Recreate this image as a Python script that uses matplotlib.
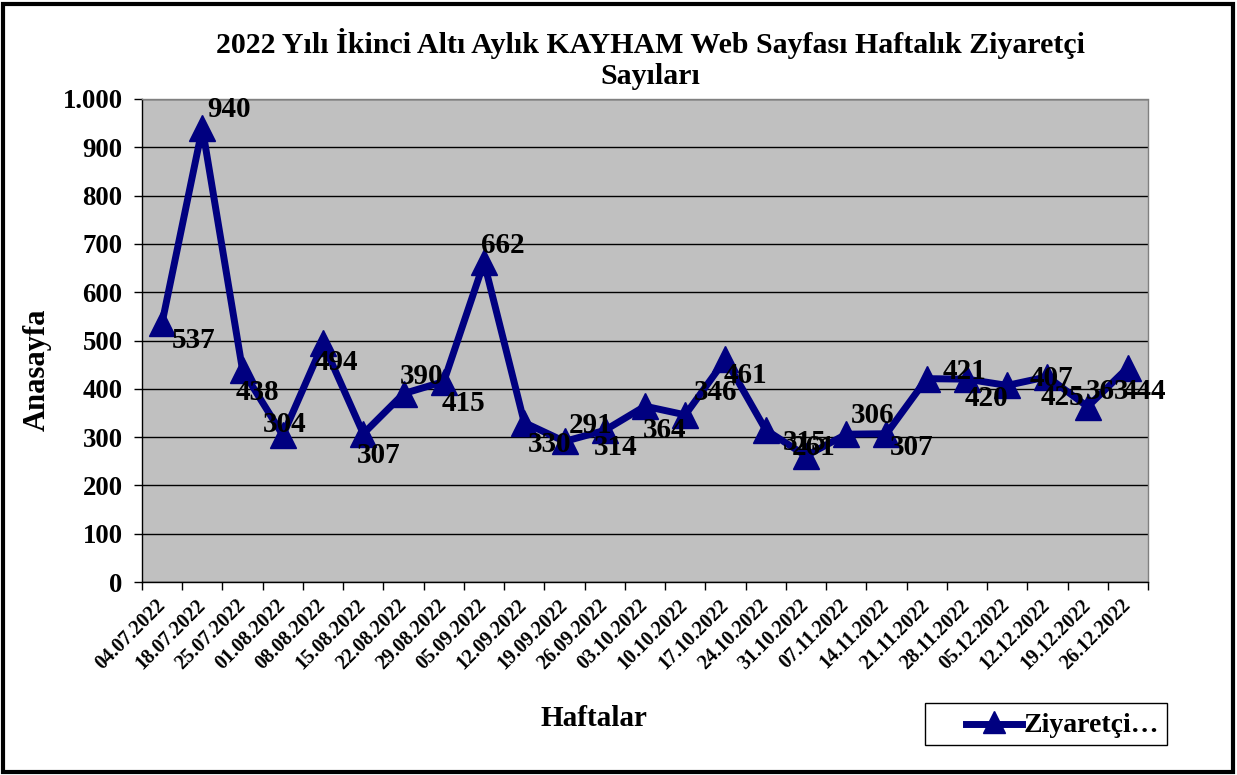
import matplotlib
matplotlib.use("Agg")
import matplotlib.pyplot as plt
from matplotlib.patches import Rectangle
from matplotlib.lines import Line2D

plt.rcParams['font.family'] = ['Liberation Serif', 'DejaVu Serif']
plt.rcParams['font.weight'] = 'bold'

weeks = ["04.07.2022", "18.07.2022", "25.07.2022", "01.08.2022", "08.08.2022",
         "15.08.2022", "22.08.2022", "29.08.2022", "05.09.2022", "12.09.2022",
         "19.09.2022", "26.09.2022", "03.10.2022", "10.10.2022", "17.10.2022",
         "24.10.2022", "31.10.2022", "07.11.2022", "14.11.2022", "21.11.2022",
         "28.11.2022", "05.12.2022", "12.12.2022", "19.12.2022", "26.12.2022"]
visitors = [537, 940, 438, 304, 494, 307, 390, 415, 662, 330, 291, 314, 364,
            346, 461, 315, 261, 306, 307, 421, 420, 407, 425, 363, 444]
y_ticks = [0, 100, 200, 300, 400, 500, 600, 700, 800, 900, 1000]
y_tick_labels = ["0", "100", "200", "300", "400", "500", "600", "700", "800", "900", "1.000"]

title = "2022 Yılı İkinci Altı Aylık KAYHAM Web Sayfası Haftalık Ziyaretçi\nSayıları"
x_title = "Haftalar"
y_title = "Anasayfa"
series_name = "Ziyaretçi…"

# label placement offsets (pixels) for each data label
label_offsets = [(32, -18), (27, 18), (15, -22), (2, 11), (13, -19), (15, -22),
                 (18, 17), (20, -22), (19, 17), (25, -22), (26, 16), (11, -17),
                 (20, -24), (30, 22), (20, -16), (39, -13), (8, 8), (26, 19),
                 (25, -14), (38, 7), (20, -19), (44, 7), (15, -21), (20, 15),
                 (16, -24)]

W, H = 1237, 775
fig = plt.figure(figsize=(W / 100, H / 100), dpi=100)
fig.patch.set_facecolor('white')
ax = fig.add_axes([142 / W, 1 - 582 / H, 1006 / W, 483 / H])
ax.set_facecolor('#C0C0C0')

navy = '#000080'
x = list(range(len(weeks)))
ax.plot(x, visitors, color=navy, lw=5.0, marker='^', markersize=18.5,
        markerfacecolor=navy, markeredgecolor=navy, zorder=3, clip_on=False)

for xi, v, (dx, dy) in zip(x, visitors, label_offsets):
    ax.annotate(str(v), (xi, v), xytext=(dx, dy), textcoords='offset pixels',
                ha='center', va='center', fontsize=21, fontweight='bold',
                color='black', zorder=4, annotation_clip=False)

ax.set_xlim(-0.5, len(weeks) - 0.5)
ax.set_ylim(0, 1000)
ax.set_yticks(y_ticks)
ax.set_yticklabels(y_tick_labels, fontsize=19.3, fontweight='bold')
ax.yaxis.grid(True, color='black', lw=1.0)
ax.set_axisbelow(True)

ax.set_xticks([i - 0.5 for i in range(len(weeks) + 1)])
ax.set_xticklabels([])
ax.set_xticks(x, minor=True)
ax.set_xticklabels(weeks, minor=True, rotation=45, ha='right', va='center',
                   rotation_mode='anchor', fontsize=14.5, fontweight='bold')
ax.tick_params(axis='x', which='minor', length=0, pad=15)
ax.tick_params(axis='x', which='major', length=6, width=1, direction='out')
ax.tick_params(axis='y', length=6, width=1, direction='out', pad=8)

for s in ['top', 'right']:
    ax.spines[s].set_color('#808080')
    ax.spines[s].set_linestyle((0, (1, 1)))
    ax.spines[s].set_linewidth(1)
for s in ['left', 'bottom']:
    ax.spines[s].set_color('black')
    ax.spines[s].set_linewidth(1)

fig.text(650 / W, 1 - 59 / H, title, ha='center', va='center', fontsize=21.5,
         fontweight='bold', linespacing=1.15)
fig.text(594 / W, 1 - 718 / H, x_title, ha='center', va='center', fontsize=21,
         fontweight='bold')
fig.text(37 / W, 1 - 370 / H, y_title, ha='center', va='center', fontsize=22,
         fontweight='bold', rotation=90)

# legend box
lx0, ly0, lx1, ly1 = 925, 703, 1167, 745
fig.patches.append(Rectangle((lx0 / W, 1 - ly1 / H), (lx1 - lx0) / W, (ly1 - ly0) / H,
                             transform=fig.transFigure, facecolor='white',
                             edgecolor='black', lw=1))
fig.lines.append(Line2D([966 / W, 1022 / W], [1 - 724 / H, 1 - 724 / H],
                        transform=fig.transFigure, color=navy, lw=5.0))
fig.lines.append(Line2D([994 / W], [1 - 722 / H], transform=fig.transFigure,
                        color=navy, marker='^', markersize=16, lw=0))
fig.text(1024 / W, 1 - 725 / H, series_name, ha='left', va='center', fontsize=20,
         fontweight='bold')

# outer border
fig.patches.append(Rectangle((3 / W, 3 / H), (W - 7) / W, (H - 7) / H,
                             transform=fig.transFigure, facecolor='none',
                             edgecolor='black', lw=3))

fig.savefig('out.png', dpi=100)
